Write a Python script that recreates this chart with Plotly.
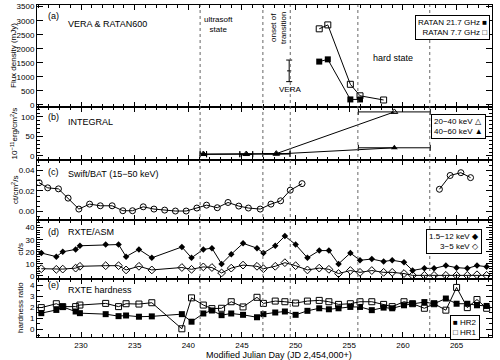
import plotly.graph_objects as go
from plotly.subplots import make_subplots

# ---------------- data ----------------
transition_mjd = [241.1, 246.95, 249.5, 255.8, 262.5]

ratan22_mjd = [252.2, 253.0, 255.1, 256.0]
ratan22_flux = [1540, 1620, 190, 190]
ratan77_mjd = [252.2, 253.0, 255.1, 256.0, 258.2]
ratan77_flux = [2710, 2850, 730, 320, 170]
vera_mjd = [249.4]
vera_flux = [1210]
vera_err = [385]

int_mjd = [241.4, 245.4, 248.2, 259.2]
int_xerr = [0.3, 0.6, 1.28, 3.35]
int_20_40 = [5, 5, 6, 113]
int_40_60 = [4, 4, 5, 21]

bat_mjd = [226.1, 226.9, 227.9, 228.8, 229.8, 230.8, 231.8, 232.9, 233.9, 234.8,
           235.8, 236.8, 237.8, 238.8, 239.8, 240.8, 241.7, 242.7, 243.7, 244.7,
           245.6, 246.7, 247.7, 248.6, 249.5, 250.6]
bat_rate = [0.028, 0.023, 0.022, 0.013, 0.0024, 0.0072, 0.0056, 0.0056, 0.0008, 0.0008,
            0.0046, 0.0024, 0.0014, 0.0005, 0.0005, 0.0034, 0.0062, 0.0037, 0.0088, 0.0053,
            0.0034, 0.0024, 0.0072, 0.0104, 0.0207, 0.0271]
bat2_mjd = [263.4, 264.4, 265.4, 266.3]
bat2_rate = [0.0216, 0.035, 0.0377, 0.0329]

asm_mjd = [226.3, 227.7, 228.3, 229.5, 229.9, 232.3, 233.5, 234.2, 235.4, 236.6,
           239.4, 240.3, 241.4, 242.2, 243.1, 244.0, 245.1, 246.4, 247.0, 248.1,
           249.0, 250.0, 251.1, 252.2, 253.1, 254.0, 255.1, 256.0, 257.1, 258.2,
           259.0, 260.1, 260.9, 262.0, 262.9, 264.0, 265.0, 266.0, 266.9, 267.8]
asm_1_12 = [19, 16, 20, 22, 25, 26, 26, 16, 22, 15,
            24, 15, 22, 23, 10, 18, 27, 23, 19, 25,
            33, 26, 15, 21, 21, 10, 19, 13, 14, 12,
            13, 11.4, 4.6, 6.3, 6.3, 8.6, 6.9, 6.3, 8.6, 7.7]
asm_3_5 = [6, 5.5, 5.7, 6.5, 8, 8.5, 8.5, 5, 8, 5,
           7, 5.5, 7.5, 7, 2.5, 6.5, 9, 8, 6, 8,
           11, 8.5, 5, 6.5, 5.5, 2, 4.5, 3, 4.5, 3,
           3, 2, 0.5, 0.5, 0.5, 0.5, 0.5, 0.5, 1, 0.5]
hr1 = [1.97, 2.32, 2.06, 2.06, 2.2, 2.35, 2.06, 2.32, 2.29, 2.41,
       0.06, 2.85, 2.2, 1.88, 1.91, 2.5, 2.03, 2.9, 2.35, 2.56,
       2.5, 2.38, 2.56, 2.62, 2.5, 2.26, 2.32, 2.5, 2.5, 2.26,
       2.06, 2.5, 2.32, 1.91, 2.32, 1.74, 3.79, 1.97, 2.7, 1.91]
hr2 = [1.47, 1.76, 2.03, 1.62, 1.47, 1.38, 1.2, 1.26, 1.15, 1.18,
       1.38, 0.7, 1.44, 1.71, 1.29, 1.44, 1.32, 1.1, 1.38, 1.53,
       1.62, 1.32, 1.68, 1.91, 1.82, 1.91, 2.03, 2.03, 1.74, 1.97,
       1.91, 2.18, 2.32, 2.47, 2.32, 2.79, 2.32, 2.32, 2.18, 2.12]

x_range = [225.9, 268.3]
y_ranges = [[-80, 3560], [-10.3, 125.6], [-0.0082, 0.050], [-2.5, 46.3], [-0.68, 4.55]]
y_dticks = [500, 50, 0.02, 10, 1]
y_minor = [None, 10, 0.005, 2, 0.5]
y_titles = ["Flux density (mJy)", "10<sup>−11</sup>erg/cm<sup>2</sup>/s", "ct/cm<sup>2</sup>/s", "ct/s", "hardness ratio"]
panel_tags = ["(a)", "(b)", "(c)", "(d)", "(e)"]
panel_names = ["VERA & RATAN600", "INTEGRAL", "Swift/BAT (15−50 keV)", "RXTE/ASM", "RXTE hardness"]

# ---------------- layout geometry (pixels) ----------------
W, H = 500, 360
L, R, T, B = 37, 492, 5, 337
bounds = [5, 107, 160, 220, 279, 337]


def px(x):
    return (x - L) / (R - L)


def py(y):
    return (B - y) / (B - T)


fig = make_subplots(rows=5, cols=1, shared_xaxes=True, vertical_spacing=0)

blk = "black"
FONT = "Liberation Sans, Arial, sans-serif"

def ln(**kw):
    return dict(color=blk, width=1, **kw)

# panel a
fig.add_trace(go.Scatter(x=ratan22_mjd, y=ratan22_flux, mode="lines+markers",
                         line=ln(), marker=dict(symbol="square", size=6, color=blk)), row=1, col=1)
fig.add_trace(go.Scatter(x=ratan77_mjd, y=ratan77_flux, mode="lines+markers",
                         line=ln(), marker=dict(symbol="square-open", size=6, color=blk)), row=1, col=1)
fig.add_trace(go.Scatter(x=vera_mjd, y=vera_flux, mode="markers",
                         marker=dict(symbol="line-ew", size=3, color=blk, line=dict(width=1, color=blk)),
                         error_y=dict(type="data", array=vera_err, color=blk, thickness=1, width=3)), row=1, col=1)
# panel b
fig.add_trace(go.Scatter(x=int_mjd, y=int_20_40, mode="lines+markers", line=ln(),
                         marker=dict(symbol="triangle-up-open", size=6, color=blk),
                         error_x=dict(type="data", array=int_xerr, color=blk, thickness=1, width=3)), row=2, col=1)
fig.add_trace(go.Scatter(x=int_mjd, y=int_40_60, mode="lines+markers", line=ln(),
                         marker=dict(symbol="triangle-up", size=6, color=blk),
                         error_x=dict(type="data", array=int_xerr, color=blk, thickness=1, width=3)), row=2, col=1)
# panel c
fig.add_trace(go.Scatter(x=bat_mjd, y=bat_rate, mode="lines+markers", line=ln(),
                         marker=dict(symbol="circle-open", size=6, color=blk)), row=3, col=1)
fig.add_trace(go.Scatter(x=bat2_mjd, y=bat2_rate, mode="lines+markers", line=ln(),
                         marker=dict(symbol="circle-open", size=6, color=blk)), row=3, col=1)
# panel d
fig.add_trace(go.Scatter(x=asm_mjd, y=asm_1_12, mode="lines+markers", line=ln(),
                         marker=dict(symbol="diamond", size=5, color=blk)), row=4, col=1)
fig.add_trace(go.Scatter(x=asm_mjd, y=asm_3_5, mode="lines+markers", line=ln(),
                         marker=dict(symbol="diamond-open", size=6, color=blk)), row=4, col=1)
# panel e
fig.add_trace(go.Scatter(x=asm_mjd, y=hr2, mode="lines+markers", line=ln(),
                         marker=dict(symbol="square", size=6, color=blk)), row=5, col=1)
fig.add_trace(go.Scatter(x=asm_mjd, y=hr1, mode="lines+markers", line=ln(),
                         marker=dict(symbol="square-open", size=6, color=blk)), row=5, col=1)

tickfont = dict(family=FONT, size=8, color=blk)
for i in range(5):
    r = i + 1
    fig.update_xaxes(row=r, col=1, range=x_range, tick0=0, dtick=5, ticks="inside", ticklen=5,
                     minor=dict(dtick=1, ticks="inside", ticklen=3, tickcolor=blk),
                     tickcolor=blk, showline=True, linecolor=blk, linewidth=1, mirror="allticks",
                     showgrid=False, zeroline=False, tickfont=tickfont, automargin=False,
                     showticklabels=(r == 5))
    minor = dict(ticks="inside", ticklen=3, tickcolor=blk, dtick=y_minor[i]) if y_minor[i] else dict(ticks="")
    fig.update_yaxes(row=r, col=1, range=y_ranges[i], tick0=0, dtick=y_dticks[i], ticks="inside",
                     ticklen=6, tickcolor=blk, minor=minor, showline=True, linecolor=blk,
                     linewidth=1, mirror="allticks", showgrid=False, zeroline=False, automargin=False,
                     tickfont=tickfont, domain=[py(bounds[i + 1]), py(bounds[i])],
                     tickformat=".2f" if i == 2 else None)

# dotted transition lines
for m in transition_mjd:
    fig.add_shape(type="line", xref="x", yref="paper", x0=m, x1=m, y0=0, y1=1,
                  line=dict(color="#666", width=1, dash="dot"))

ann = []
def txt(x, y, s, size=9, xanchor="left", yanchor="middle", **kw):
    ann.append(dict(x=px(x), y=py(y), xref="paper", yref="paper", text=s, showarrow=False,
                    xanchor=xanchor, yanchor=yanchor, font=dict(family=FONT, size=size, color=blk), **kw))

tag_y = [16, 117, 172, 232, 285]
name_y = [24, 122, 174, 232, 290]
for i in range(5):
    txt(46, tag_y[i], panel_tags[i])
    txt(66, name_y[i], panel_names[i])

# y titles
ytitle_x = [13, 13, 15, 20, 20]
for i in range(5):
    txt(ytitle_x[i], (bounds[i] + bounds[i + 1]) / 2, y_titles[i], size=8, xanchor="center", textangle=-90)

txt(202, 25, "ultrasoft<br>state", size=8)
txt(279, 28, "onset of<br>transition", size=8, xanchor="center", textangle=-90)
txt(289.5, 90, "VERA", size=8, xanchor="center")
txt(371, 58, "hard state", size=9)
txt(279, 355, "Modified Julian Day (JD 2,454,000+)", size=9, xanchor="center")

# legend boxes
leg = dict(bordercolor=blk, borderwidth=1, bgcolor="white", borderpad=2)
txt(490, 15, "RATAN 21.7 GHz ■<br>RATAN 7.7 GHz □", size=8, xanchor="right", yanchor="top", align="right", **leg)
txt(431, 114, "20−40 keV △<br>40−60 keV ▲", size=8, xanchor="left", yanchor="top", align="left", **leg)
txt(482, 229, "1.5−12 keV ◆<br>3−5 keV ◇", size=8, xanchor="right", yanchor="top", align="right", **leg)
txt(450, 315, "■ HR2<br>□ HR1", size=8, xanchor="left", yanchor="top", align="left", **leg)

fig.update_layout(width=W, height=H, margin=dict(l=L, r=W - R, t=T, b=H - B, autoexpand=False),
                  paper_bgcolor="white", plot_bgcolor="white", showlegend=False,
                  annotations=ann, font=dict(family=FONT, size=8, color=blk))

fig.write_html("out.html", config={"displayModeBar": False},
               post_script="document.body.style.margin='0';document.body.style.overflow='hidden';")
